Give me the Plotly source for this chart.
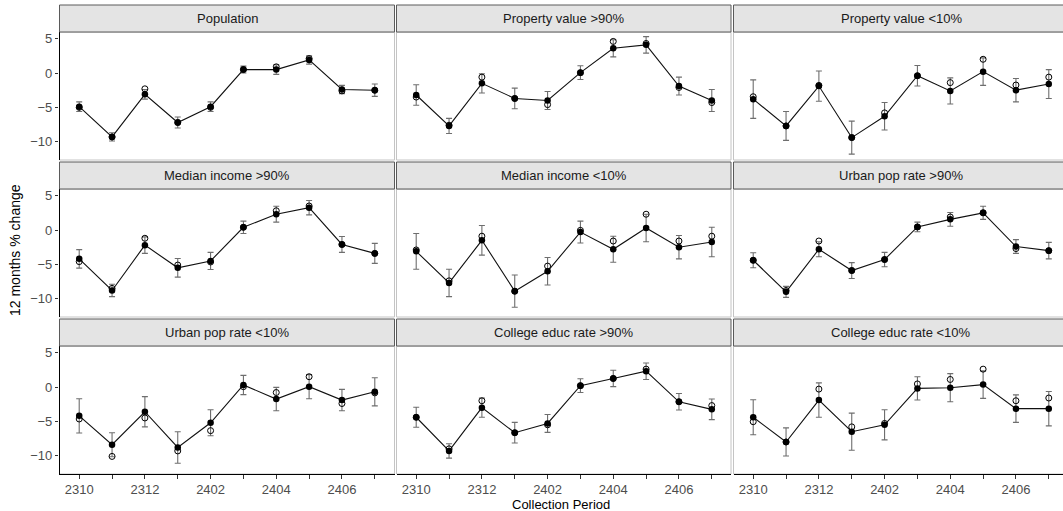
import plotly.graph_objects as go

# Collection periods (YYMM) on the x axis
periods = ["2310", "2311", "2312", "2401", "2402", "2403", "2404", "2405", "2406", "2407"]
tick_labels = ["2310", "", "2312", "", "2402", "", "2404", "", "2406", ""]

panels = [
    "Population", "Property value >90%", "Property value <10%",
    "Median income >90%", "Median income <10%", "Urban pop rate >90%",
    "Urban pop rate <10%", "College educ rate >90%", "College educ rate <10%",
]

# Estimated 12-month % change (filled points, joined by a line)
est_population = [-4.9, -9.3, -3.1, -7.2, -4.9, 0.5, 0.5, 1.9, -2.4, -2.5]
est_prop_hi = [-3.2, -7.7, -1.5, -3.7, -4.0, 0.05, 3.6, 4.1, -1.9, -4.0]
est_prop_lo = [-3.8, -7.7, -1.9, -9.4, -6.3, -0.4, -2.6, 0.2, -2.5, -1.6]
est_inc_hi = [-4.2, -8.8, -2.2, -5.5, -4.5, 0.4, 2.3, 3.25, -2.1, -3.4]
est_inc_lo = [-3.1, -7.7, -1.5, -8.9, -6.0, -0.3, -2.8, 0.3, -2.5, -1.75]
est_urb_hi = [-4.4, -9.0, -2.8, -5.9, -4.3, 0.45, 1.55, 2.5, -2.4, -3.0]
est_urb_lo = [-4.2, -8.4, -3.6, -8.8, -5.2, 0.3, -1.75, 0.05, -1.9, -0.7]
est_col_hi = [-4.4, -9.3, -3.0, -6.65, -5.3, 0.2, 1.25, 2.3, -2.15, -3.25]
est_col_lo = [-4.4, -8.0, -1.9, -6.5, -5.5, -0.2, -0.1, 0.35, -3.15, -3.15]

# Half-width of the error bars around each estimate
err_population = [0.7, 0.6, 0.7, 0.8, 0.7, 0.5, 0.7, 0.6, 0.6, 0.9]
err_prop_hi = [1.5, 1.1, 1.4, 1.5, 1.3, 1.0, 1.25, 1.2, 1.3, 1.6]
err_prop_lo = [2.8, 2.1, 2.2, 2.4, 2.0, 1.5, 1.9, 2.0, 1.7, 2.1]
err_inc_hi = [1.35, 0.9, 1.2, 1.35, 1.25, 0.9, 1.15, 1.05, 1.15, 1.45]
err_inc_lo = [2.6, 2.0, 2.15, 2.35, 2.0, 1.6, 1.9, 2.0, 1.7, 2.15]
err_urb_hi = [1.1, 0.8, 1.1, 1.15, 1.05, 0.7, 1.0, 0.95, 1.0, 1.2]
err_urb_lo = [2.5, 1.75, 2.2, 2.3, 1.9, 1.4, 1.7, 1.75, 1.55, 2.05]
err_col_hi = [1.45, 1.05, 1.4, 1.5, 1.3, 1.0, 1.2, 1.2, 1.2, 1.5]
err_col_lo = [2.55, 2.05, 2.5, 2.7, 2.2, 1.7, 2.05, 2.0, 2.0, 2.5]

# Comparison values (open circles)
alt_population = [-5.0, -9.3, -2.3, -7.2, -5.0, 0.5, 0.9, 2.1, -2.6, -2.5]
alt_prop_hi = [-3.5, -7.6, -0.6, -3.7, -4.6, 0.05, 4.6, 4.3, -2.1, -4.3]
alt_prop_lo = [-3.45, -7.7, -1.8, -9.4, -5.8, -0.4, -1.4, 2.0, -1.75, -0.6]
alt_inc_hi = [-4.6, -8.5, -1.2, -5.1, -4.65, 0.4, 2.8, 3.5, -2.1, -3.4]
alt_inc_lo = [-2.9, -7.4, -0.9, -8.9, -5.25, -0.05, -1.6, 2.3, -1.6, -0.9]
alt_urb_hi = [-4.4, -8.8, -1.6, -5.9, -4.3, 0.45, 1.9, 2.5, -2.7, -3.0]
alt_urb_lo = [-4.65, -10.1, -4.5, -9.3, -6.35, 0.05, -0.8, 1.5, -2.4, -0.85]
alt_col_hi = [-4.4, -9.0, -2.0, -6.65, -5.5, 0.2, 1.25, 2.6, -2.15, -2.7]
alt_col_lo = [-5.05, -8.0, -0.3, -5.8, -5.3, 0.45, 1.1, 2.6, -2.0, -1.6]

estimates = [est_population, est_prop_hi, est_prop_lo, est_inc_hi, est_inc_lo,
             est_urb_hi, est_urb_lo, est_col_hi, est_col_lo]
errors = [err_population, err_prop_hi, err_prop_lo, err_inc_hi, err_inc_lo,
          err_urb_hi, err_urb_lo, err_col_hi, err_col_lo]
alternates = [alt_population, alt_prop_hi, alt_prop_lo, alt_inc_hi, alt_inc_lo,
              alt_urb_hi, alt_urb_lo, alt_col_hi, alt_col_lo]

y_tick_vals = [-10, -5, 0, 5]
y_tick_text = ["\u221210", "\u22125", "0", "5"]

W, H = 1063, 511
FONT = "Liberation Sans, Arial, sans-serif"

# Panel geometry in pixels
col_px = [(59.5, 394.5), (396.5, 731.0), (733.5, 1063.0)]
px_per_unit = (394.5 - 59.5) / 10.2
row_top = [32.0, 189.0, 346.0]
panel_h = 128.0
strip_h = 27.0
y_range = [-12.66, 5.97]


def fx(px):
    return px / W


def fy(py):
    return 1 - py / H


fig = go.Figure()
layout_axes = {}
shapes = []
annotations = []

x_idx = list(range(len(periods)))

for i, name in enumerate(panels):
    r, c = divmod(i, 3)
    k = i + 1
    xa = "x" if k == 1 else f"x{k}"
    ya = "y" if k == 1 else f"y{k}"
    x0, x1 = col_px[c]
    top = row_top[r]
    bot = top + panel_h
    x_hi = -0.6 + (x1 - x0) / px_per_unit

    layout_axes[f"xaxis{'' if k == 1 else k}"] = dict(
        domain=[fx(x0), fx(x1)], anchor=ya, range=[-0.6, x_hi],
        tickmode="array", tickvals=x_idx, ticktext=tick_labels,
        showticklabels=(r == 2), ticks="outside" if r == 2 else "",
        ticklen=3.5, tickwidth=1, tickcolor="#333333",
        tickfont=dict(family=FONT, size=13, color="#4d4d4d"),
        showgrid=False, zeroline=False,
        showline=(r == 2), linecolor="black", linewidth=1.3,
    )
    layout_axes[f"yaxis{'' if k == 1 else k}"] = dict(
        domain=[fy(bot), fy(top)], anchor=xa, range=y_range,
        tickmode="array", tickvals=y_tick_vals, ticktext=y_tick_text,
        showticklabels=(c == 0), ticks="outside" if c == 0 else "",
        ticklen=3.5, tickwidth=1, tickcolor="#333333",
        tickfont=dict(family=FONT, size=13, color="#4d4d4d"),
        showgrid=False, zeroline=False,
        showline=(c == 0), linecolor="black", linewidth=1.3,
    )

    # light panel border
    shapes.append(dict(type="rect", xref="paper", yref="paper",
                       x0=fx(x0), x1=fx(x1 if c < 2 else x1 + 6), y0=fy(bot), y1=fy(top),
                       line=dict(color="#c4c4c4", width=1), fillcolor="rgba(0,0,0,0)",
                       layer="below"))
    # strip
    strip_right = x1 if c < 2 else x0 + 10.2 * px_per_unit
    shapes.append(dict(type="rect", xref="paper", yref="paper",
                       x0=fx(x0), x1=fx(strip_right), y0=fy(top), y1=fy(top - strip_h),
                       line=dict(color="#5a5a5a", width=1), fillcolor="#e4e4e4",
                       layer="above"))
    annotations.append(dict(text=name, xref="paper", yref="paper",
                            x=fx((x0 + strip_right) / 2), y=fy(top - strip_h / 2),
                            showarrow=False, xanchor="center", yanchor="middle",
                            font=dict(family=FONT, size=13, color="#1a1a1a")))

    # error bars
    fig.add_trace(go.Scatter(
        x=x_idx, y=estimates[i], xaxis=xa, yaxis=ya, mode="markers",
        marker=dict(size=1, color="rgba(0,0,0,0)"),
        error_y=dict(type="data", array=errors[i], visible=True,
                     color="#6e6e6e", thickness=1.1, width=3),
        hoverinfo="skip", showlegend=False,
    ))
    # estimate line and filled points
    fig.add_trace(go.Scatter(
        x=x_idx, y=estimates[i], xaxis=xa, yaxis=ya, mode="lines+markers",
        line=dict(color="#111111", width=1.1),
        marker=dict(size=6.5, color="black", symbol="circle"),
        showlegend=False,
    ))
    # open circles
    fig.add_trace(go.Scatter(
        x=x_idx, y=alternates[i], xaxis=xa, yaxis=ya, mode="markers",
        marker=dict(size=6, color="black", symbol="circle-open",
                    line=dict(width=1, color="black")),
        showlegend=False,
    ))

annotations.append(dict(text="12 months % change", xref="paper", yref="paper",
                        x=fx(15), y=fy(250), textangle=-90, showarrow=False,
                        xanchor="center", yanchor="middle",
                        font=dict(family=FONT, size=14, color="black")))
annotations.append(dict(text="Collection Period", xref="paper", yref="paper",
                        x=fx(561), y=fy(504), showarrow=False,
                        xanchor="center", yanchor="middle",
                        font=dict(family=FONT, size=13, color="black")))

fig.update_layout(
    width=W, height=H, margin=dict(l=0, r=0, t=0, b=0),
    paper_bgcolor="white", plot_bgcolor="white",
    shapes=shapes, annotations=annotations, **layout_axes,
)

fig.write_html("out.html")
